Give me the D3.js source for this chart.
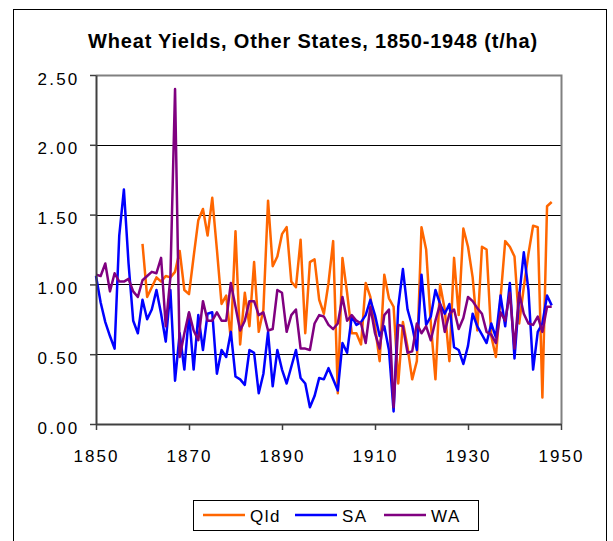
<!DOCTYPE html>
<html>
<head>
<meta charset="utf-8">
<script src="https://cdn.jsdelivr.net/npm/d3@7"></script>
<style>
  html, body { margin: 0; padding: 0; background: #fff; }
  svg { display: block; }
  text { font-family: "Liberation Sans", Arial, sans-serif; }
</style>
</head>
<body>
<svg id="chart" width="613" height="541"></svg>
<script>
const title = "Wheat Yields, Other States, 1850-1948 (t/ha)";
const years = d3.range(1850, 1949);
const seriesNames = ["Qld", "SA", "WA"];
const seriesColors = ["#FF6600", "#0000FF", "#800080"];
const yTicks = [0, 0.5, 1.0, 1.5, 2.0, 2.5];
const xTicks = [1850, 1870, 1890, 1910, 1930, 1950];

const qld = [
  null, null, null, null, null, null, null, null, null, null,
  1.29, 0.91, 0.98, 1.05, 1.02, 1.06, 1.05, 1.09, 1.24, 0.96,
  0.93, 1.20, 1.46, 1.54, 1.35, 1.62, 1.25, 0.86, 0.92, 0.61,
  1.38, 0.57, 0.94, 0.70, 1.16, 0.66, 0.82, 1.60, 1.13, 1.20,
  1.36, 1.41, 1.02, 0.98, 1.32, 0.65, 1.16, 1.18, 0.89, 0.79,
  1.01, 1.31, 0.22, 1.19, 0.94, 0.65, 0.65, 0.57, 1.01, 0.91,
  0.70, 0.45, 1.07, 0.90, 0.84, 0.29, 0.73, 0.55, 0.32, 0.45,
  1.41, 1.25, 0.72, 0.32, 1.00, 0.82, 0.45, 1.19, 0.78, 1.40,
  1.27, 1.05, 0.67, 1.27, 1.25, 0.63, 0.48, 0.90, 1.31, 1.27,
  1.20, 0.72, 0.98, 1.22, 1.42, 1.41, 0.19, 1.56, 1.59
];
const sa = [
  1.06, 0.87, 0.73, 0.63, 0.54, 1.35, 1.68, 1.15, 0.74, 0.65,
  0.89, 0.75, 0.82, 0.96, 0.79, 0.59, 0.96, 0.31, 0.65, 0.39,
  0.79, 0.39, 0.78, 0.53, 0.79, 0.80, 0.36, 0.53, 0.48, 0.66,
  0.34, 0.32, 0.28, 0.53, 0.51, 0.22, 0.36, 0.66, 0.27, 0.53,
  0.39, 0.29, 0.41, 0.53, 0.33, 0.29, 0.12, 0.20, 0.33, 0.32,
  0.40, 0.32, 0.24, 0.58, 0.51, 0.77, 0.71, 0.73, 0.78, 0.89,
  0.78, 0.63, 0.70, 0.53, 0.09, 0.84, 1.11, 0.82, 0.70, 0.53,
  1.07, 0.71, 0.77, 0.96, 0.86, 0.79, 0.86, 0.55, 0.53, 0.43,
  0.56, 0.79, 0.70, 0.64, 0.58, 0.72, 0.62, 0.92, 0.70, 1.01,
  0.47, 0.91, 1.23, 0.96, 0.39, 0.66, 0.72, 0.92, 0.85
];
const wa = [
  1.07, 1.06, 1.15, 0.95, 1.08, 1.02, 1.02, 1.04, 0.95, 0.91,
  1.03, 1.06, 1.09, 1.08, 1.19, 0.70, 1.05, 2.40, 0.48, 0.65,
  0.80, 0.67, 0.60, 0.88, 0.74, 0.74, 0.80, 0.74, 0.74, 1.01,
  0.84, 0.67, 0.74, 0.88, 0.88, 0.78, 0.80, 0.67, 0.68, 0.96,
  0.94, 0.66, 0.78, 0.82, 0.54, 0.54, 0.53, 0.72, 0.78, 0.77,
  0.71, 0.68, 0.72, 0.91, 0.74, 0.78, 0.74, 0.72, 0.58, 0.84,
  0.65, 0.54, 0.78, 0.82, 0.12, 0.71, 0.70, 0.51, 0.52, 0.72,
  0.65, 0.70, 0.60, 0.74, 0.86, 0.66, 0.79, 0.82, 0.68, 0.76,
  0.91, 0.88, 0.83, 0.79, 0.66, 0.64, 0.58, 0.80, 0.74, 0.94,
  0.54, 0.94, 0.79, 0.72, 0.71, 0.77, 0.66, 0.84, 0.84
];
const seriesValues = [qld, sa, wa];

const svg = d3.select("#chart");

// outer chart border
svg.append("rect")
  .attr("x", 13.5).attr("y", 9.5)
  .attr("width", 593).attr("height", 560)
  .attr("fill", "#fff").attr("stroke", "#000").attr("stroke-width", 1);

const plot = { left: 96, right: 561, top: 75, bottom: 424 };
const x = d3.scaleLinear().domain([1850, 1950]).range([plot.left, plot.right]);
const y = d3.scaleLinear().domain([0, 2.5]).range([plot.bottom, plot.top]);

// title
svg.append("text")
  .attr("x", 313).attr("y", 48)
  .attr("text-anchor", "middle")
  .attr("font-size", 20).attr("font-weight", "bold")
  .attr("letter-spacing", 0.8)
  .text(title);

// gridlines
svg.append("g").selectAll("line")
  .data(yTicks.filter(d => d > 0 && d < 2.5))
  .join("line")
  .attr("x1", plot.left).attr("x2", plot.right)
  .attr("y1", d => Math.round(y(d)) + 0.5).attr("y2", d => Math.round(y(d)) + 0.5)
  .attr("stroke", "#000").attr("stroke-width", 1);

// plot-area border (top & right)
svg.append("path")
  .attr("d", `M${plot.left},${plot.top + 0.5}H${plot.right + 0.5}V${plot.bottom}`)
  .attr("fill", "none").attr("stroke", "#808080").attr("stroke-width", 2);

// series
const line = d3.line()
  .defined(d => d[1] != null)
  .x(d => x(d[0]))
  .y(d => y(d[1]));

seriesValues.forEach((vals, i) => {
  svg.append("path")
    .datum(years.map((yr, k) => [yr, vals[k]]))
    .attr("d", line)
    .attr("fill", "none")
    .attr("stroke", seriesColors[i])
    .attr("stroke-width", 2.5)
    .attr("stroke-linejoin", "round");
});

// axes
const yAxis = d3.axisLeft(y).tickValues(yTicks).tickFormat(d3.format(".2f"))
  .tickSize(6).tickSizeOuter(0).tickPadding(10.5);
const gy = svg.append("g").attr("transform", `translate(${plot.left},0)`).call(yAxis);
gy.select(".domain").attr("stroke", "#404040").attr("stroke-width", 2);
gy.selectAll(".tick line").attr("stroke", "#404040").attr("stroke-width", 1.5);
gy.selectAll(".tick text").attr("font-size", 17).attr("fill", "#000")
  .attr("letter-spacing", 2.2).attr("dy", 9)
  .attr("font-family", "Liberation Sans, Arial, sans-serif");

const xAxis = d3.axisBottom(x).tickValues(xTicks).tickFormat(d3.format("d"))
  .tickSize(6).tickSizeOuter(0).tickPadding(20);
const gx = svg.append("g").attr("transform", `translate(0,${plot.bottom})`).call(xAxis);
gx.select(".domain").attr("stroke", "#404040").attr("stroke-width", 2);
gx.selectAll(".tick line").attr("stroke", "#404040").attr("stroke-width", 1.5);
gx.selectAll(".tick text").attr("font-size", 17).attr("fill", "#000")
  .attr("letter-spacing", 2)
  .attr("font-family", "Liberation Sans, Arial, sans-serif");

// legend
const lg = svg.append("g");
lg.append("rect")
  .attr("x", 193.5).attr("y", 500.5).attr("width", 285).attr("height", 30)
  .attr("fill", "#fff").attr("stroke", "#000").attr("stroke-width", 1);
const legendX = [203, 295, 384];
seriesNames.forEach((name, i) => {
  lg.append("line")
    .attr("x1", legendX[i]).attr("x2", legendX[i] + 42)
    .attr("y1", 515).attr("y2", 515)
    .attr("stroke", seriesColors[i]).attr("stroke-width", 2.5);
  lg.append("text")
    .attr("x", legendX[i] + 47).attr("y", 522)
    .attr("font-size", 17).attr("letter-spacing", 1.5)
    .text(name);
});
</script>
</body>
</html>
